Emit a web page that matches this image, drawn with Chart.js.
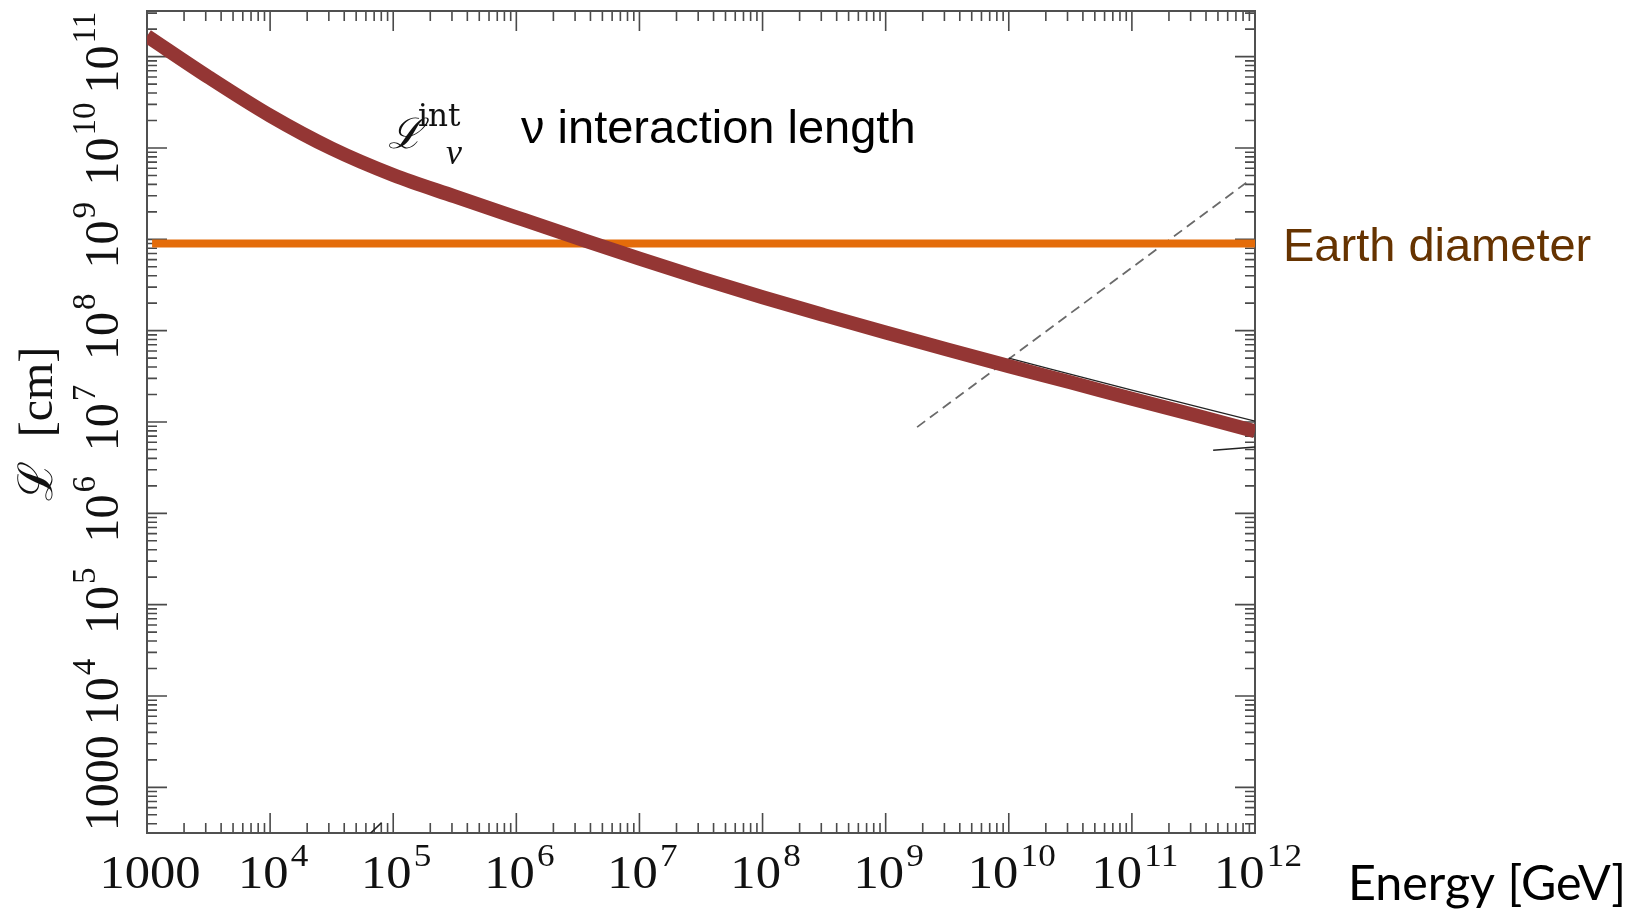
<!DOCTYPE html>
<html>
<head>
<meta charset="utf-8">
<title>Neutrino interaction length</title>
<script src="https://cdn.jsdelivr.net/npm/chart.js@4.4.1/dist/chart.umd.min.js"></script>
<style>
  html, body { margin: 0; padding: 0; background: #fff; overflow: hidden; }
  #wrap { position: relative; width: 1643px; height: 910px; }
</style>
</head>
<body>
<div id="wrap"><canvas id="chart-len" width="1643" height="910"></canvas></div>
<script>
// ══════════════════════════════════════════════════════════
//  Neutrino interaction length vs. energy (log-log)
// ══════════════════════════════════════════════════════════

// ── DATA ──
var energyGeV   = [1e3, 3.16e3, 1e4, 3.16e4, 1e5, 3.16e5, 1e6, 3.16e6, 1e7, 3.16e7,
                   1e8, 3.16e8, 1e9, 3.16e9, 1e10, 3.16e10, 1e11, 3.16e11, 1e12];
var intLengthCm = [1.68e11, 5.97e10, 2.26e10, 9.86e9, 5.06e9, 2.95e9, 1.74e9, 1.03e9, 6.14e8, 3.73e8,
                   2.32e8, 1.48e8, 9.55e7, 6.21e7, 4.09e7, 2.72e7, 1.80e7, 1.20e7, 7.94e6];

// thin black curve peeking out above the thick one at high energy
var thinE = [1e10, 1e11, 1e12];
var thinL = [5.0e7, 2.23e7, 1.02e7];

// Earth diameter level
var earthE = [1.1e3, 1e12];
var earthDiameterCm = 9e8;

// dashed slope-1 line
var dashE = [1.80e9, 8.63e11];
var dashL = [8.79e6, 4.24e9];

// short leftover strokes of other curves
var strayHighE = [4.57e11, 1e12];
var strayHighL = [4.92e6, 5.31e6];
var strayLowE  = [6.49e4, 8.05e4];
var strayLowL  = [312, 411];

// axis ranges and labelled decades
var xMin = 1e3, xMax = 1e12;
var yMin = 316.2, yMax = 3.162e11;
var xDecades = [3, 4, 5, 6, 7, 8, 9, 10, 11, 12];
var yDecades = [3, 4, 5, 6, 7, 8, 9, 10, 11];

var SERIF = '"Liberation Serif", "DejaVu Serif", serif';
var SANS  = '"Liberation Sans", Arial, sans-serif';

function pts(xs, ys) {
  return xs.map(function(x, i){ return { x: x, y: ys[i] }; });
}

// 1..9 × 10^n positions inside [lo, hi]
function logSteps(lo, hi) {
  var out = [];
  var e0 = Math.floor(Math.log10(lo)), e1 = Math.ceil(Math.log10(hi));
  for (var e = e0; e <= e1; e++) {
    for (var m = 1; m < 10; m++) {
      var v = m * Math.pow(10, e);
      if (v >= lo * 0.999 && v <= hi * 1.001) out.push({ v: v, major: m === 1 });
    }
  }
  return out;
}

// "1000" or 10 with a raised exponent, centred on 0 along the local x axis
function drawPower(ctx, exp, baseFont, supFont, raise) {
  ctx.textBaseline = 'alphabetic';
  if (exp === 3) {
    ctx.font = baseFont; ctx.textAlign = 'center';
    ctx.fillText('1000', 0, 0);
    return;
  }
  ctx.textAlign = 'left';
  ctx.font = baseFont; var wb = ctx.measureText('10').width;
  ctx.font = supFont;  var ws = ctx.measureText(String(exp)).width;
  var x0 = -(wb + 2 + ws) / 2;
  ctx.font = baseFont; ctx.fillText('10', x0, 0);
  ctx.font = supFont;  ctx.fillText(String(exp), x0 + wb + 2, -raise);
}

// ── FRAME, INWARD TICKS AND TEXT ──
var framePlugin = {
  id: 'logFrame',
  beforeDatasetsDraw: function(chart) {
    var ctx = chart.ctx, a = chart.chartArea, xs = chart.scales.x, ys = chart.scales.y;
    ctx.save();
    ctx.strokeStyle = '#4a4a4a';
    ctx.lineWidth = 1.6;
    ctx.beginPath();
    logSteps(xMin, xMax).forEach(function(t) {
      var px = xs.getPixelForValue(t.v), len = t.major ? 20 : 10;
      ctx.moveTo(px, a.bottom); ctx.lineTo(px, a.bottom - len);
      ctx.moveTo(px, a.top);    ctx.lineTo(px, a.top + len);
    });
    logSteps(yMin, yMax).forEach(function(t) {
      var py = ys.getPixelForValue(t.v), len = t.major ? 20 : 10;
      ctx.moveTo(a.left, py);  ctx.lineTo(a.left + len, py);
      ctx.moveTo(a.right, py); ctx.lineTo(a.right - len, py);
    });
    ctx.stroke();
    ctx.strokeStyle = '#505050';
    ctx.lineWidth = 2;
    ctx.strokeRect(a.left, a.top, a.right - a.left, a.bottom - a.top);
    ctx.restore();
  },
  afterDraw: function(chart) {
    var ctx = chart.ctx, a = chart.chartArea, xs = chart.scales.x, ys = chart.scales.y;
    ctx.save();
    ctx.fillStyle = '#111';

    // x tick labels
    xDecades.forEach(function(e) {
      var px = xs.getPixelForValue(Math.pow(10, e));
      ctx.save();
      ctx.translate(px + 3, a.bottom + 55);
      ctx.scale(1.1, 1);
      drawPower(ctx, e, '46px ' + SERIF, '32px ' + SERIF, 22);
      ctx.restore();
    });

    // y tick labels, rotated
    yDecades.forEach(function(e) {
      var py = ys.getPixelForValue(Math.pow(10, e));
      ctx.save();
      ctx.translate(a.left - 29, py - 4);
      ctx.rotate(-Math.PI / 2);
      drawPower(ctx, e, '48px ' + SERIF, '33px ' + SERIF, 23);
      ctx.restore();
    });

    // y axis title
    ctx.save();
    ctx.translate(52, 424);
    ctx.rotate(-Math.PI / 2);
    ctx.font = '48px ' + SERIF;
    ctx.textAlign = 'center';
    ctx.fillText('\u2112  [cm]', 0, 0);
    ctx.restore();

    // curve name, L^int_nu
    ctx.textAlign = 'left';
    ctx.font = 'italic 42px "DejaVu Serif", serif';
    ctx.fillText('\u2112', 388, 148);
    ctx.font = '31px "DejaVu Serif", serif';
    ctx.fillText('int', 418, 126);
    ctx.font = 'italic 36px ' + SERIF;
    ctx.fillText('\u03bd', 446, 164);

    ctx.fillStyle = '#000';
    ctx.font = '47px ' + SANS;
    ctx.fillText('\u03bd interaction length', 521, 143);

    // Earth diameter label, level with its line
    ctx.fillStyle = '#663300';
    ctx.fillText('Earth diameter', 1283, ys.getPixelForValue(earthDiameterCm) + 17);

    // x axis title
    ctx.fillStyle = '#000';
    ctx.font = '48px Lato, "Open Sans", sans-serif';
    var w = ctx.measureText('Energy [GeV]').width;
    ctx.save();
    ctx.translate(1348, 900);
    ctx.scale(278 / w, 1);
    ctx.fillText('Energy [GeV]', 0, 0);
    ctx.restore();

    ctx.restore();
  }
};

// ── CHART ──
var lenEl = document.getElementById('chart-len');
var lenChart = new Chart(lenEl.getContext('2d'), {
  type: 'line',
  data: {
    datasets: [
      { label: 'L int', data: pts(energyGeV, intLengthCm), borderColor: '#943634', borderWidth: 14,
        pointRadius: 0, cubicInterpolationMode: 'monotone', borderCapStyle: 'butt', borderJoinStyle: 'round' },
      { label: 'thin', data: pts(thinE, thinL), borderColor: '#222', borderWidth: 1.2, pointRadius: 0,
        cubicInterpolationMode: 'monotone' },
      { label: 'Earth diameter', data: pts(earthE, [earthDiameterCm, earthDiameterCm]), borderColor: '#E46C0A',
        borderWidth: 8, pointRadius: 0 },
      { label: 'dashed', data: pts(dashE, dashL), borderColor: '#6a6a6a', borderWidth: 1.8,
        borderDash: [10, 6], pointRadius: 0 },
      { label: 'stray hi', data: pts(strayHighE, strayHighL), borderColor: '#222', borderWidth: 1.5, pointRadius: 0 },
      { label: 'stray lo', data: pts(strayLowE, strayLowL), borderColor: '#222', borderWidth: 1.5, pointRadius: 0 }
    ]
  },
  options: {
    responsive: false,
    animation: false,
    devicePixelRatio: 1,
    layout: { padding: { left: 147, top: 11, right: 388, bottom: 77 } },
    plugins: { legend: { display: false }, tooltip: { enabled: false } },
    scales: {
      x: { type: 'logarithmic', min: xMin, max: xMax, display: false },
      y: { type: 'logarithmic', min: yMin, max: yMax, display: false }
    }
  },
  plugins: [framePlugin]
});
</script>
</body>
</html>
